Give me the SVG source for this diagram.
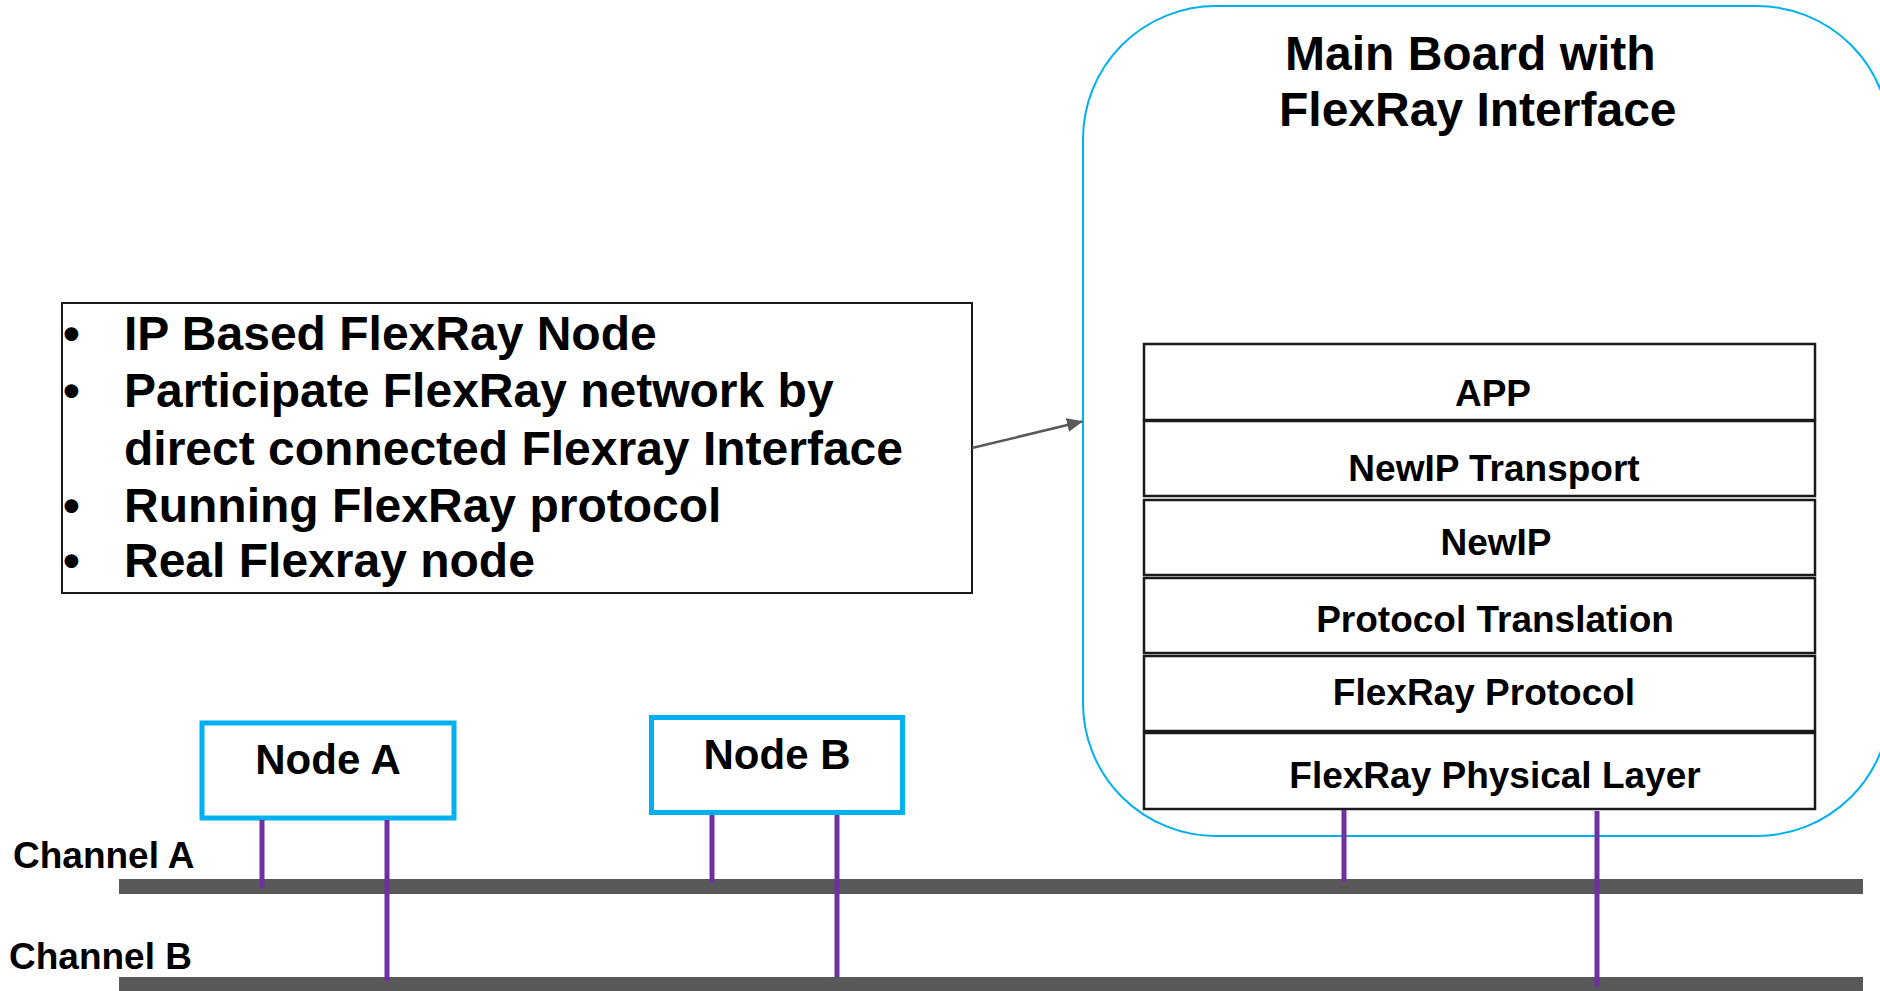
<svg xmlns="http://www.w3.org/2000/svg" width="1880" height="991" viewBox="0 0 1880 991">
  <defs>
    <style>
      text { font-family: "Liberation Sans", Arial, sans-serif; font-weight: bold; fill: #000; }
      .board { fill: #fff; stroke: #00B0F0; stroke-width: 2; }
      .layer { fill: #fff; stroke: #1a1a1a; stroke-width: 2.5; }
      .layertxt { font-size: 37px; text-anchor: middle; }
      .node { fill: #fff; stroke: #00B0F0; stroke-width: 5; }
      .nodetxt { font-size: 42px; text-anchor: middle; }
      .bus { fill: #595959; }
      .tap { stroke: #7030A0; stroke-width: 5; fill: none; }
      .note { fill: #fff; stroke: #1a1a1a; stroke-width: 2; }
      .notetxt { font-size: 48px; }
      .chan { font-size: 37px; }
      .arrow { stroke: #595959; stroke-width: 2.5; fill: none; }
    </style>
    <marker id="ah" viewBox="0 0 16 14" refX="15" refY="7" markerWidth="16" markerHeight="14" orient="auto" markerUnits="userSpaceOnUse">
      <path d="M0,0 L16,7 L0,14 z" fill="#595959"/>
    </marker>
  </defs>

  <g id="main-board">
    <rect class="board" x="1083" y="6" width="807" height="830" rx="133" ry="133"/>
    <text x="1285" y="70" font-size="48">Main Board with</text>
    <text x="1279" y="126" font-size="48">FlexRay Interface</text>
  </g>

  <g id="layer-app">
    <rect class="layer" x="1144" y="344" width="671" height="76"/>
    <text class="layertxt" x="1493" y="406">APP</text>
  </g>
  <g id="layer-newip-transport">
    <rect class="layer" x="1144" y="421" width="671" height="75"/>
    <text class="layertxt" x="1494" y="481">NewIP Transport</text>
  </g>
  <g id="layer-newip">
    <rect class="layer" x="1144" y="500" width="671" height="75"/>
    <text class="layertxt" x="1496" y="555">NewIP</text>
  </g>
  <g id="layer-protocol-translation">
    <rect class="layer" x="1144" y="578" width="671" height="75"/>
    <text class="layertxt" x="1495" y="632">Protocol Translation</text>
  </g>
  <g id="layer-flexray-protocol">
    <rect class="layer" x="1144" y="656" width="671" height="75"/>
    <text class="layertxt" x="1484" y="705">FlexRay Protocol</text>
  </g>
  <g id="layer-flexray-physical">
    <rect class="layer" x="1144" y="733" width="671" height="76"/>
    <text class="layertxt" x="1495" y="788">FlexRay Physical Layer</text>
  </g>

  <g id="note">
    <rect class="note" x="62" y="303" width="910" height="290"/>
    <g class="notetxt">
      <text x="63" y="350">•</text>
      <text x="124" y="350">IP Based FlexRay Node</text>
      <text x="63" y="407">•</text>
      <text x="124" y="407">Participate FlexRay network by</text>
      <text x="124" y="464.5">direct connected Flexray Interface</text>
      <text x="63" y="522">•</text>
      <text x="124" y="522">Running FlexRay protocol</text>
      <text x="63" y="577">•</text>
      <text x="124" y="577">Real Flexray node</text>
    </g>
  </g>

  <g id="node-a">
    <rect class="node" x="202" y="723" width="252" height="95"/>
    <text class="nodetxt" x="328" y="774">Node A</text>
  </g>
  <g id="node-b">
    <rect class="node" x="651.5" y="717.5" width="251" height="95"/>
    <text class="nodetxt" x="777" y="769">Node B</text>
  </g>

  <g id="channel-a">
    <rect class="bus" x="119" y="879" width="1744" height="15"/>
    <text class="chan" x="13" y="868">Channel A</text>
  </g>
  <g id="channel-b">
    <rect class="bus" x="119" y="977" width="1744" height="16"/>
    <text class="chan" x="9" y="969">Channel B</text>
  </g>

  <g id="connectors">
    <line class="arrow" x1="972" y1="448" x2="1082" y2="421.5" marker-end="url(#ah)"/>
    <line class="tap" x1="262" y1="820" x2="262" y2="888"/>
    <line class="tap" x1="387" y1="820" x2="387" y2="981"/>
    <line class="tap" x1="712" y1="815" x2="712" y2="883"/>
    <line class="tap" x1="837" y1="815" x2="837" y2="977"/>
    <line class="tap" x1="1344" y1="810" x2="1344" y2="882"/>
    <line class="tap" x1="1597" y1="811" x2="1597" y2="987"/>
  </g>
</svg>
